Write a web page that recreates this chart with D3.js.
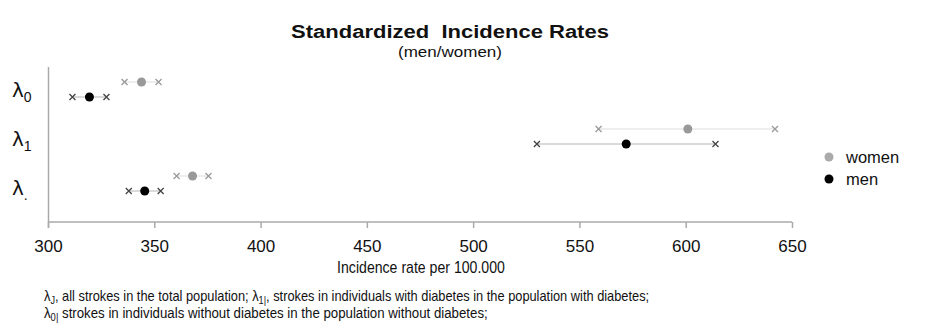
<!DOCTYPE html>
<html><head><meta charset="utf-8">
<script src="https://cdn.jsdelivr.net/npm/d3@7"></script>
<style>
body{margin:0;background:#fff;}
text{font-family:"Liberation Sans",Arial,sans-serif;}
</style></head>
<body>
<svg id="chart" width="927" height="329"></svg>
<script>
const categories = ["0", "1", "."];
const womenRate = [344, 601, 368];
const womenLow  = [336, 559, 360.5];
const womenHigh = [352, 642, 375.5];
const menRate = [319.5, 572, 345.5];
const menLow  = [311.5, 530, 338];
const menHigh = [327.5, 614, 353];
const xTicks = [300, 350, 400, 450, 500, 550, 600, 650];

const svg = d3.select("#chart");
const x = d3.scaleLinear().domain([300, 650]).range([48, 792]);
const y = d3.scalePoint().domain(categories).range([89.5, 183.5]);
const yLab = d3.scalePoint().domain(categories).range([97, 195]);

// fit a text element horizontally to a target width by a scale transform
function fitWidth(sel, x0, y0, target, anchor) {
  const w = sel.node().getBBox().width;
  const s = target / w;
  const tx = anchor === "middle" ? x0 : x0;
  sel.attr("x", 0).attr("y", 0).attr("transform", `translate(${tx},${y0}) scale(${s},1)`);
}

// title
const title = svg.append("text").attr("text-anchor", "middle")
  .attr("font-weight", "bold").attr("font-size", 19).attr("fill", "#111")
  .attr("xml:space", "preserve").text("Standardized  Incidence Rates");
fitWidth(title, 450, 38, 318, "middle");
const sub = svg.append("text").attr("text-anchor", "middle")
  .attr("font-size", 15.5).attr("fill", "#111").text("(men/women)");
fitWidth(sub, 450, 57, 104, "middle");

// y axis line
svg.append("line").attr("x1", 48.5).attr("x2", 48.5).attr("y1", 67).attr("y2", 228)
  .attr("stroke", "#aaa").attr("stroke-width", 1.5);

// x axis
const xAxis = d3.axisBottom(x).tickValues(xTicks).tickSize(6).tickFormat(d3.format("d"));
const gx = svg.append("g").attr("transform", "translate(0,222)").call(xAxis);
gx.select(".domain").attr("stroke", "#aaa").attr("stroke-width", 1.5).attr("d", "M48,0H792");
gx.selectAll(".tick line").attr("stroke", "#aaa").attr("stroke-width", 1.5);
gx.selectAll(".tick text").attr("font-size", 17).attr("fill", "#111")
  .attr("y", 30).attr("dy", 0)
  .style("font-family", "'Liberation Sans',Arial,sans-serif");
const axTitle = svg.append("text").attr("text-anchor", "middle")
  .attr("font-size", 16).attr("fill", "#111")
  .text("Incidence rate per 100.000");
fitWidth(axTitle, 421, 273, 168, "middle");

// y labels
categories.forEach((c) => {
  const t = svg.append("text").attr("x", 12).attr("y", yLab(c))
    .attr("font-size", 20).attr("fill", "#111")
    .style("font-family", "'DejaVu Sans',sans-serif");
  t.append("tspan").text("λ");
  t.append("tspan").attr("dy", 5).attr("font-size", 14)
    .style("font-family", "'Liberation Sans',Arial,sans-serif").text(c);
});

// series
const series = [
  {name: "women", off: -7.5, rate: womenRate, low: womenLow, high: womenHigh, dot: "#999", cross: "#999", line: "#ddd"},
  {name: "men", off: 7.5, rate: menRate, low: menLow, high: menHigh, dot: "#000", cross: "#444", line: "#b5b5b5"}
];
const crossPath = (cx, cy, s) => `M${cx-s},${cy-s}L${cx+s},${cy+s}M${cx-s},${cy+s}L${cx+s},${cy-s}`;

series.forEach(s => {
  const g = svg.append("g");
  categories.forEach((c, i) => {
    const cy = y(c) + s.off;
    g.append("line").attr("x1", x(s.low[i])).attr("x2", x(s.high[i]))
      .attr("y1", cy).attr("y2", cy).attr("stroke", s.line).attr("stroke-width", 1.2);
    [s.low[i], s.high[i]].forEach(v => {
      g.append("path").attr("d", crossPath(x(v), cy, 3)).attr("stroke", s.cross).attr("stroke-width", 1.3).attr("fill", "none");
    });
    g.append("circle").attr("cx", x(s.rate[i])).attr("cy", cy).attr("r", 4.5).attr("fill", s.dot);
  });
});

// legend
const legend = [{name: "women", color: "#aaa", y: 157}, {name: "men", color: "#000", y: 179}];
legend.forEach(l => {
  svg.append("circle").attr("cx", 829).attr("cy", l.y).attr("r", 4.5).attr("fill", l.color);
  svg.append("text").attr("x", 846).attr("y", l.y + 5.5).attr("font-size", 16.5).attr("fill", "#111")
    .text(l.name);
});

// footnotes
function foot(yy, len, parts) {
  const t = svg.append("text").attr("font-size", 14).attr("fill", "#111");
  parts.forEach(p => {
    if (p.sub) t.append("tspan").attr("dy", 3).attr("font-size", 10).text(p.sub);
    else t.append("tspan").attr("dy", p.back ? -3 : 0).text(p.t);
  });
  fitWidth(t, 44, yy, len, "start");
}
foot(301, 606, [{t: "λ"}, {sub: "J"}, {t: ", all strokes in the total population; λ", back: true}, {sub: "1|"}, {t: ", strokes in individuals with diabetes in the population with diabetes;", back: true}]);
foot(318, 444, [{t: "λ"}, {sub: "0|"}, {t: " strokes in individuals without diabetes in the population without diabetes;", back: true}]);
</script>
</body></html>
